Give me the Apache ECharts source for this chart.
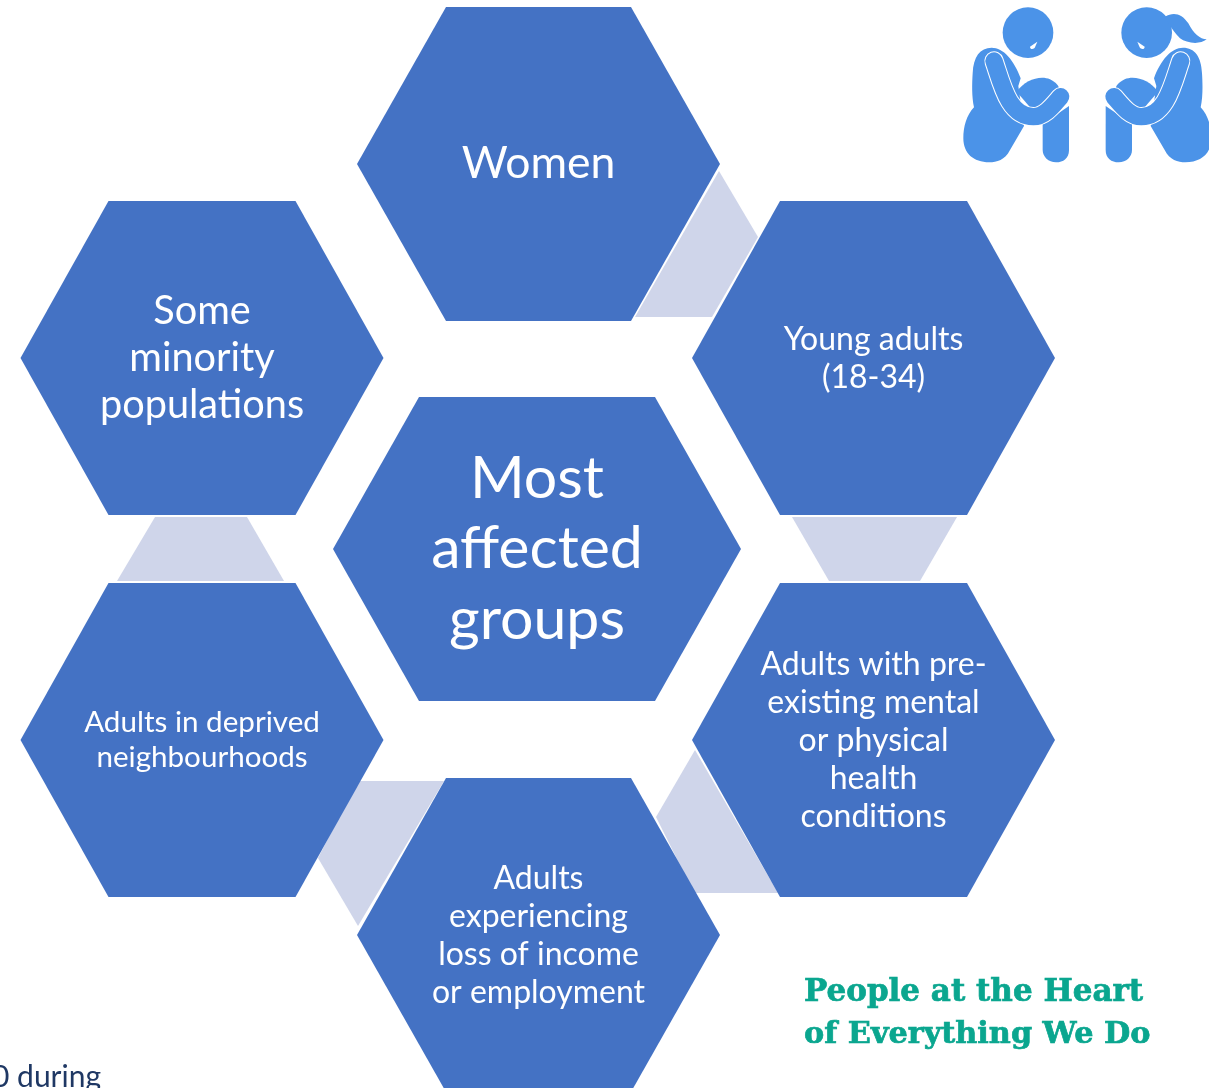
<!DOCTYPE html>
<html>
<head>
<meta charset="utf-8">
<style>
html, body { margin: 0; padding: 0; background: #fff; }
#chart { width: 1209px; height: 1088px; }
</style>
<script src="https://cdn.jsdelivr.net/npm/echarts@6/dist/echarts.min.js"></script>
</head>
<body>
<div id="chart"></div>
<script>
// hexagons: text, centre, half width, half height, corner inset
const hexNames = [
    'Women',
    'Young adults\n(18-34)',
    'Adults with pre-\nexisting mental\nor physical\nhealth\nconditions',
    'Adults\nexperiencing\nloss of income\nor employment',
    'Adults in deprived\nneighbourhoods',
    'Some\nminority\npopulations',
    'Most\naffected\ngroups'
];
const hexCx = [538.5, 873.5, 873.5, 538.5, 202, 202, 537];
const hexCy = [164, 358, 740, 935, 740, 358, 549];
const hexHalfW = [181.5, 181.5, 181.5, 181.5, 181.5, 181.5, 204];
const hexHalfH = [157, 157, 157, 157, 157, 157, 152];
const hexInset = [89, 88, 88, 89, 88, 88, 86];

// light connectors between neighbouring hexagons
const linkShapes = [
    [[719, 171], [758, 237], [712, 317], [635, 317]],
    [[792, 517], [957, 517], [920, 581], [829, 581]],
    [[695, 750], [778, 893], [694, 893], [656, 817]],
    [[444, 781], [358, 926], [318, 858], [358, 781]],
    [[117, 581], [155, 517], [247, 517], [284, 581]]
];

const hexFontSize = [44.5, 32, 32, 32, 29.6, 39.7, 59];
const hexLineHeight = [50, 38, 38, 38, 35, 47, 70.5];
const hexTextDy = [0, 1, 1, 1, 0, 0, 0];

const chart = echarts.init(document.getElementById('chart'));

const iconBlue = '#4b93e8';
const armPath = 'M132 183 C155 250 175 350 250 350 C285 350 310 315 332 290';

// one sitting figure, drawn at 3x and scaled down in the group
function figure() {
    return [
        { type: 'circle', shape: { cx: 234, cy: 98, r: 76 }, style: { fill: iconBlue } },
        { type: 'path', shape: { pathData: 'M262 125 L240 140 C240 150 252 148 255 142 Z' }, style: { fill: '#fff' } },
        { type: 'path', shape: { pathData: 'M68 220 C70 170 90 143 125 143 C160 143 192 180 212 235 L205 258 L222 378 L180 450 C165 480 140 487 118 487 C70 487 40 460 40 415 C40 380 50 345 72 322 C65 290 66 250 68 220 Z' }, style: { fill: iconBlue } },
        { type: 'path', shape: { pathData: 'M200 275 C225 240 270 225 300 238 C318 247 330 260 326 270 L260 345 Z' }, style: { fill: iconBlue } },
        { type: 'path', shape: { pathData: 'M278 372 L357 318 L357 450 C357 475 340 487 318 487 C295 487 278 470 278 450 Z' }, style: { fill: iconBlue } },
        { type: 'path', shape: { pathData: armPath }, style: { fill: 'none', stroke: '#fff', lineWidth: 58, lineCap: 'round' } },
        { type: 'path', shape: { pathData: armPath }, style: { fill: 'none', stroke: iconBlue, lineWidth: 52, lineCap: 'round' } }
    ];
}

const hair = { type: 'path', shape: { pathData: 'M179 50 C154 35 129 40 109 70 C94 100 74 118 54 118 C74 135 114 130 134 115 C149 100 159 85 169 70 Z' }, style: { fill: iconBlue } };

const option = {
    animation: false,
    backgroundColor: '#fff',
    grid: { left: 0, right: 0, top: 0, bottom: 0 },
    xAxis: { type: 'value', min: 0, max: 1209, show: false },
    yAxis: { type: 'value', min: 0, max: 1088, inverse: true, show: false },
    series: [
        {
            type: 'custom',
            coordinateSystem: 'cartesian2d',
            clip: false,
            silent: true,
            data: linkShapes.map((s, i) => [s[0][0], s[0][1], i]),
            renderItem(params, api) {
                const pts = linkShapes[api.value(2)].map(p => api.coord(p));
                return { type: 'polygon', shape: { points: pts }, style: { fill: '#cfd5ea' } };
            }
        },
        {
            type: 'custom',
            coordinateSystem: 'cartesian2d',
            clip: false,
            silent: true,
            data: hexNames.map((n, i) => [hexCx[i], hexCy[i], hexHalfW[i], hexHalfH[i], hexInset[i], i]),
            renderItem(params, api) {
                const cx = api.value(0), cy = api.value(1);
                const w = api.value(2), h = api.value(3), ins = api.value(4);
                const i = api.value(5);
                const pts = [
                    [cx - w, cy], [cx - w + ins, cy - h], [cx + w - ins, cy - h],
                    [cx + w, cy], [cx + w - ins, cy + h], [cx - w + ins, cy + h]
                ].map(p => api.coord(p));
                const c = api.coord([cx, cy]);
                return {
                    type: 'group',
                    children: [
                        { type: 'polygon', shape: { points: pts }, style: { fill: '#4472c4' } },
                        {
                            type: 'text',
                            x: c[0],
                            y: c[1] + hexTextDy[i],
                            style: {
                                text: hexNames[i],
                                fill: '#fff',
                                font: hexFontSize[i] + 'px Lato',
                                lineHeight: hexLineHeight[i],
                                align: 'center',
                                verticalAlign: 'middle'
                            }
                        }
                    ]
                };
            }
        },
        {
            // the two figures, top right
            type: 'custom',
            coordinateSystem: 'cartesian2d',
            clip: false,
            silent: true,
            data: [[950, 0, 1], [950 + 824 / 3, 0, -1]],
            renderItem(params, api) {
                const p = api.coord([api.value(0), api.value(1)]);
                const dir = api.value(2);
                return {
                    type: 'group',
                    x: p[0],
                    y: p[1],
                    scaleX: dir / 3,
                    scaleY: 1 / 3,
                    children: dir < 0 ? figure().concat([hair]) : figure()
                };
            }
        }
    ],
    graphic: [
        {
            type: 'text', x: 804, y: 993,
            style: { text: 'People at the Heart', font: 'bold 31px "DejaVu Serif"', fill: '#0aa68f', stroke: '#0aa68f', lineWidth: 0.7, verticalAlign: 'middle' }
        },
        {
            type: 'text', x: 804, y: 1035,
            style: { text: 'of Everything We Do', font: 'bold 30.3px "DejaVu Serif"', fill: '#0aa68f', stroke: '#0aa68f', lineWidth: 0.7, verticalAlign: 'middle' }
        },
        {
            type: 'text', x: -8, y: 1077,
            style: { text: '0 during', font: '30px Lato', fill: '#1f3864', verticalAlign: 'middle' }
        }
    ]
};

chart.setOption(option);
</script>
</body>
</html>
